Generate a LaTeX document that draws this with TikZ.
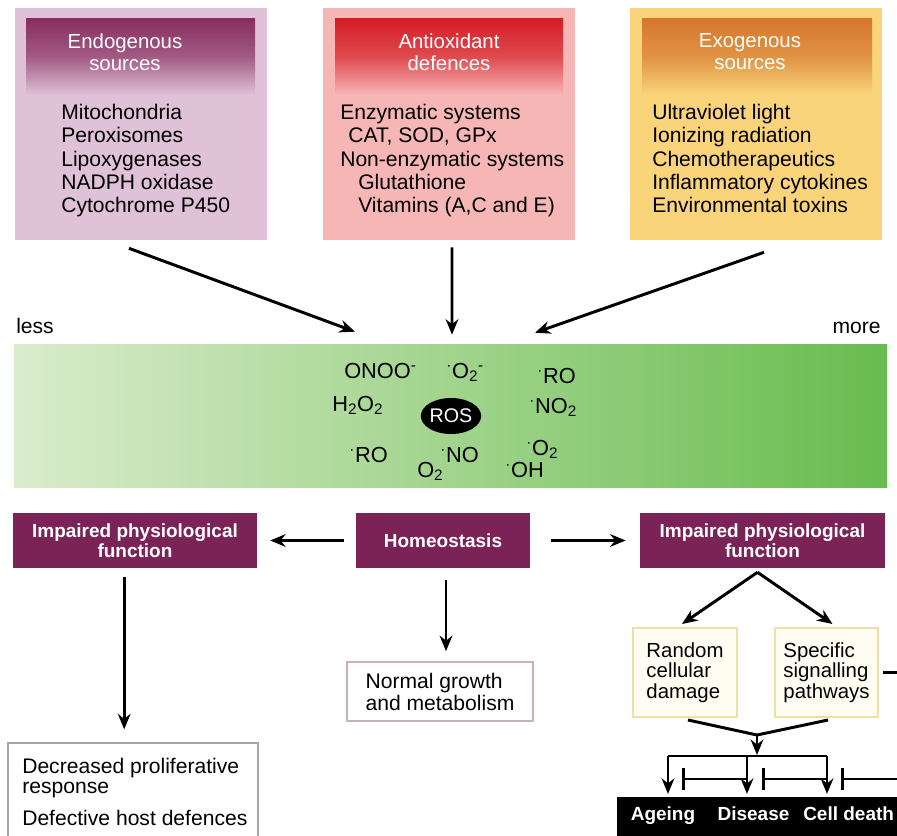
\documentclass[tikz,border=0pt]{standalone}
\usepackage{fontspec}
\setmainfont{Liberation Sans}
\usetikzlibrary{arrows.meta,calc,shapes.geometric}
\definecolor{endofill}{RGB}{224,194,216}
\definecolor{endodark}{RGB}{135,45,95}
\definecolor{antifill}{RGB}{247,182,182}
\definecolor{antidark}{RGB}{212,28,36}
\definecolor{exofill}{RGB}{250,212,122}
\definecolor{exodark}{RGB}{214,118,44}
\definecolor{bandleft}{RGB}{218,236,204}
\definecolor{bandright}{RGB}{104,188,78}
\definecolor{maroon}{RGB}{123,35,86}
\definecolor{paleline}{RGB}{238,224,165}
\definecolor{palefill}{RGB}{255,253,242}
\definecolor{decline}{RGB}{165,165,165}
\definecolor{normline}{RGB}{205,175,185}
\newcommand{\radot}{\textsuperscript{·}}
\tikzset{
  srcbox/.style={rectangle, minimum width=6.3cm, minimum height=5.8cm, inner sep=0},
  head/.style={text=white, align=center, inner sep=0, font=\fontsize{14.5}{15.6}\selectfont},
  body/.style={align=left, inner sep=0, font=\fontsize{15}{16.6}\selectfont},
  mol/.style={inner sep=0, anchor=base west, font=\fontsize{15.5}{16}\selectfont},
  effect/.style={rectangle, fill=maroon, text=white, align=center, inner sep=0,
    minimum height=1.375cm, font=\fontsize{13.5}{14.4}\selectfont\bfseries},
  outbox/.style={rectangle, draw, line width=1.4pt, fill=white, inner sep=0},
  choice/.style={rectangle, draw=paleline, fill=palefill, line width=1.4pt, inner sep=0,
    minimum width=2.6cm, minimum height=2.225cm, align=left, font=\fontsize{14.5}{14.4}\selectfont},
  result/.style={text=white, inner sep=0, anchor=base, font=\fontsize{13.5}{15}\selectfont\bfseries},
  link/.style={line width=2.1pt},
  arr/.style={line width=2.1pt, -{Stealth[length=11pt,width=9pt]}},
  inh/.style={line width=2.1pt, -{Bar[width=15pt,line width=2.1pt]}},
}
\begin{document}
\begin{tikzpicture}[x=0.025cm, y=-0.025cm]
  %%%%% START %%%%%
  \useasboundingbox (0,0) rectangle (897,836);

  % sources and defences
  \node[srcbox, fill=endofill] (endo) at (141,124) {};
  \shade[top color=endodark, bottom color=endofill, middle color=endodark!70!endofill] (26,18) rectangle (255,95);
  \node[head] (endohead) at (125,52) {Endogenous\\sources};
  \node[body, anchor=north west] (endolist) at (61,104) {Mitochondria\\Peroxisomes\\Lipoxygenases\\NADPH oxidase\\Cytochrome P450};

  \node[srcbox, fill=antifill] (anti) at (449,124) {};
  \shade[top color=antidark, bottom color=antifill, middle color=antidark!70!antifill] (335,18) rectangle (563,95);
  \node[head] (antihead) at (449,52) {Antioxidant\\defences};
  \node[body, anchor=north west] (antilist) at (340,104) {Enzymatic systems\\\hspace{5.7pt}CAT, SOD, GPx\\Non-enzymatic systems\\\hspace{12.8pt}Glutathione\\\hspace{12.8pt}Vitamins (A,C and E)};

  \node[srcbox, fill=exofill] (exo) at (756,124) {};
  \shade[top color=exodark, bottom color=exofill, middle color=exodark!70!exofill] (642,18) rectangle (872,95);
  \node[head] (exohead) at (750,52) {Exogenous\\sources};
  \node[body, anchor=north west] (exolist) at (652,104) {Ultraviolet light\\Ionizing radiation\\Chemotherapeutics\\Inflammatory cytokines\\Environmental toxins};

  % ROS band
  \node[left color=bandleft, right color=bandright, minimum width=21.825cm, minimum height=3.55cm, inner sep=0] (band) at (450.5,416) {};
  \node[body, anchor=base west] (less) at (16,333) {less};
  \node[body, anchor=base east] (more) at (881,333) {more};

  \draw[arr] ($(endo.south)+(-12,8)$) -- ($(band.north)+(-95.5,-13)$);
  \draw[arr] ($(anti.south)+(3,7)$) -- ($(band.north)+(1.5,-10)$);
  \draw[arr] ($(exo.south)+(8,12)$) -- ($(band.north)+(84.5,-12)$);

  \node[ellipse, fill=black, text=white, minimum width=1.45cm, minimum height=0.9cm, inner sep=0,
    font=\fontsize{14}{15}\selectfont] (ros) at (451,416) {ROS};
  \node[mol] (onoo) at (344,378) {ONOO\textsuperscript{-}};
  \node[mol] (superox) at (446,378) {\radot O\textsubscript{2}\textsuperscript{-}};
  \node[mol] (alkoxyA) at (537,383) {\radot RO};
  \node[mol] (peroxide) at (332,411) {H\textsubscript{2}O\textsubscript{2}};
  \node[mol] (nitro) at (529,413) {\radot NO\textsubscript{2}};
  \node[mol] (alkoxyB) at (349,462) {\radot RO};
  \node[mol] (oxygen) at (417,477) {O\textsubscript{2}};
  \node[mol] (nitric) at (440,462) {\radot NO};
  \node[mol] (hydroxyl) at (505,477) {\radot OH};
  \node[mol] (oxyB) at (526,455) {\radot O\textsubscript{2}};

  % effects
  \node[effect, minimum width=6.11cm] (impL) at (135,540.5) {Impaired physiological\\function};
  \node[effect, minimum width=4.35cm] (homeo) at (443,540.5) {Homeostasis};
  \node[effect, minimum width=6.125cm] (impR) at (762.5,540.5) {Impaired physiological\\function};

  \draw[arr, shorten <=8.5pt, shorten >=9pt] (homeo.west) -- (impL.east);
  \draw[arr, shorten <=15pt, shorten >=10pt] (homeo.east) -- (impR.west);

  \node[outbox, draw=decline, minimum width=6.25cm, minimum height=2.75cm] (dec) at (133,798) {};
  \node[body, anchor=north west, font=\fontsize{15}{14.5}\selectfont] (dectext) at (22,758)
    {Decreased proliferative\\response\\[8pt]Defective host defences};
  \draw[arr, shorten <=6.4pt, shorten >=9pt] ([xshift=-0.27cm]impL.south) -- ([xshift=-0.27cm]impL.south |- dec.north);

  \node[outbox, draw=normline, minimum width=4.65cm, minimum height=1.475cm, align=left,
    font=\fontsize{15}{15.6}\selectfont] (normal) at (440,691.5) {Normal growth\\and metabolism};
  \draw[arr, shorten <=8.5pt, shorten >=7pt] ([xshift=0.075cm]homeo.south) -- ([xshift=0.075cm]homeo.south |- normal.north);

  % damage and outcomes
  \node[choice] (rand) at (685,672.5) {Random\\cellular\\damage};
  \node[choice, minimum width=2.575cm] (spec) at (826.5,672.5) {Specific\\signalling\\pathways};
  \draw[arr] ($(impR.south)+(-5,4)$) -- ($(rand.north)+(-3,-3)$);
  \draw[arr] ($(impR.south)+(-5,4)$) -- ($(spec.north)+(6,-3)$);
  \draw[link] ([xshift=3pt]spec.east) -- ++(20,0);

  \node[fill=black, minimum width=7.1cm, minimum height=1.1cm, inner sep=0] (outbar) at (759,819) {};
  \node[result] (ageing) at (663,820) {Ageing};
  \node[result] (disease) at (753.5,820) {Disease};
  \node[result, anchor=base west] (death) at (803,820) {Cell death};

  \coordinate (merge) at (757,735);
  \coordinate (colA) at (668,756);
  \coordinate (colB) at (747,756);
  \coordinate (colC) at (827,756);
  \draw[link] ($(rand.south)+(3,2)$) -- (merge) -- ($(spec.south)+(1.5,2)$);
  \draw[arr] (merge) -- (757,755);
  \draw[link] (colA) -- (colC);
  \foreach \col in {colA,colB,colC}
    \draw[arr, shorten >=2pt] (\col) -- (\col |- outbar.north);

  \coordinate (barA) at (682,779);
  \coordinate (barB) at (762,779);
  \coordinate (barC) at (841,779);
  \draw[inh] (barA -| colB) -- (barA);
  \draw[inh] (barB -| colC) -- (barB);
  \draw[inh] (barC -| 900,0) -- (barC);
  %%%%% END %%%%%
\end{tikzpicture}
\end{document}
